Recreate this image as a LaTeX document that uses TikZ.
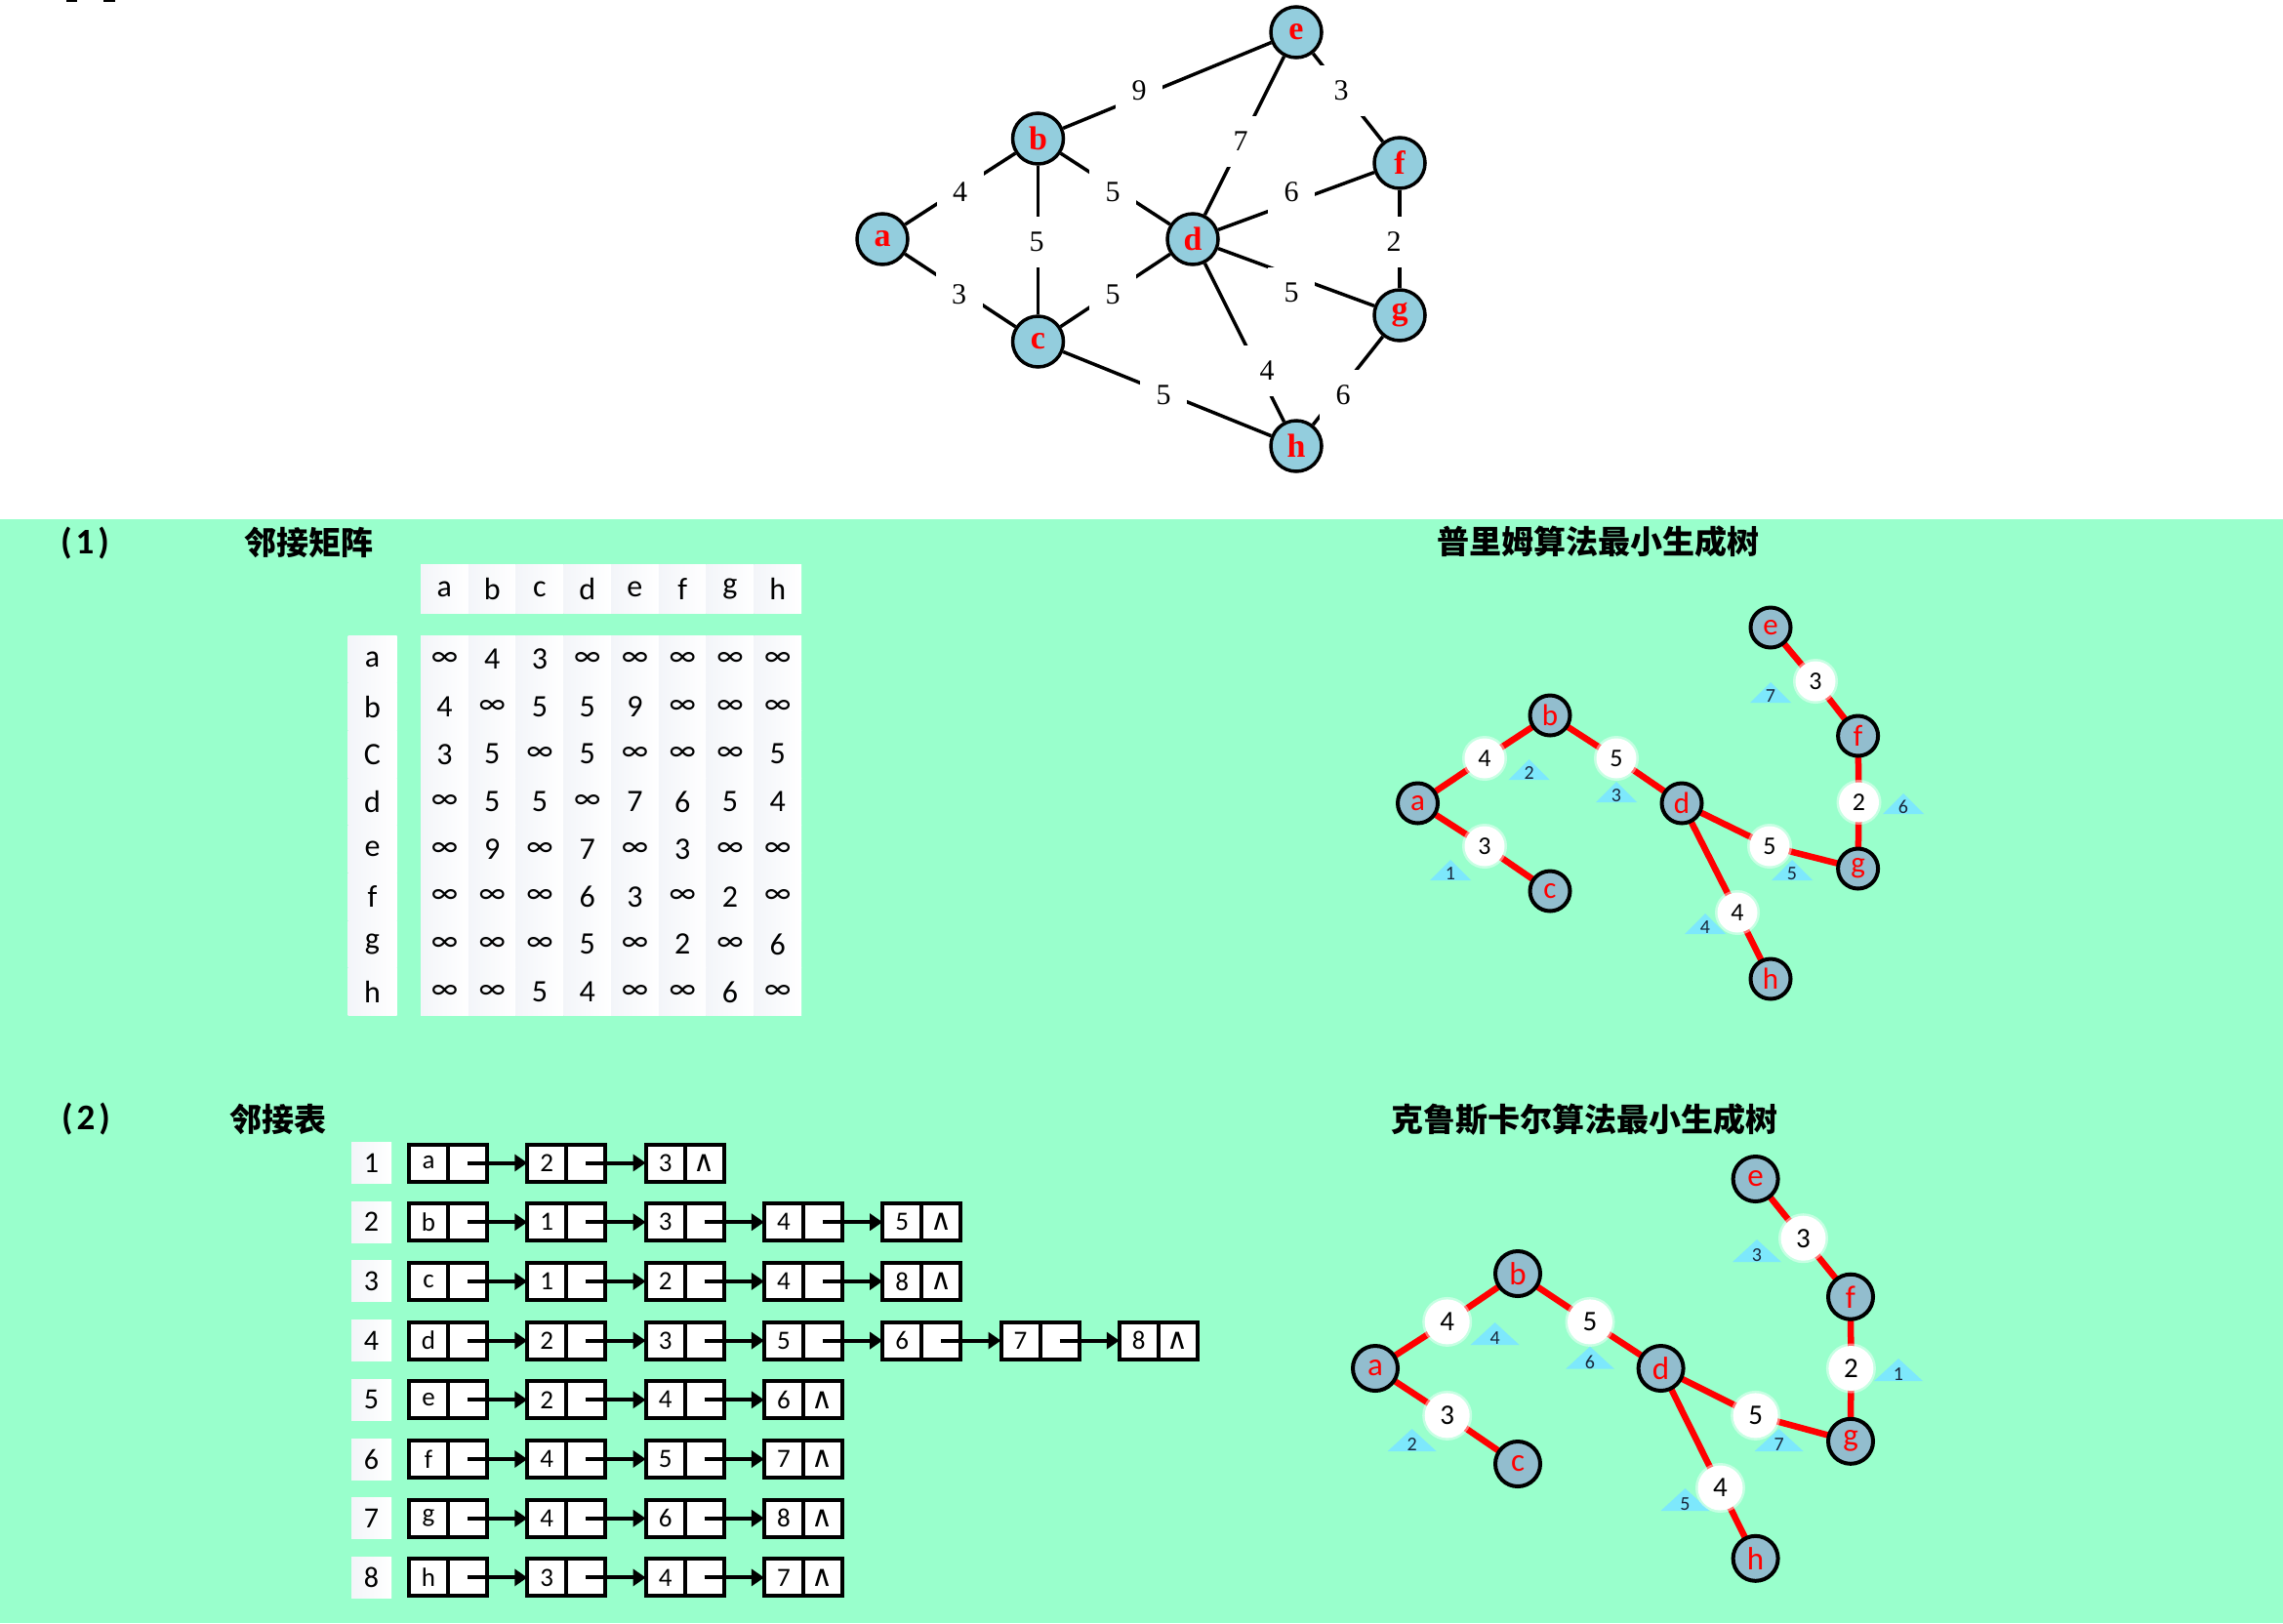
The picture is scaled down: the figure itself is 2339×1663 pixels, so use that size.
\documentclass[tikz,border=0pt]{standalone}
\usepackage{fontspec}
\setmainfont{Liberation Serif}
\newfontfamily\carl{Carlito}
\newfontfamily\cjk{Noto Sans CJK SC}
\newfontfamily\dvs{DejaVu Sans}
\usetikzlibrary{arrows.meta}
\pgfdeclarelayer{bg}
\pgfsetlayers{bg,main}
\definecolor{bggreen}{RGB}{153,255,204}
\definecolor{topnode}{RGB}{147,205,221}
\definecolor{treenode}{RGB}{146,189,206}
\definecolor{tricyan}{RGB}{125,232,252}
\definecolor{trinumc}{RGB}{25,40,60}
\definecolor{cellgray}{RGB}{243,245,249}
\newcommand\fsz[1]{\fontsize{#1}{#1}\selectfont}
\newcommand\ordtri[6]{%
  \begin{pgfonlayer}{bg}\fill[tricyan] ({#2-#5/2},{#3+7}) -- ({#2+#5/2},{#3+7}) -- ({#2},{#3+7-#6}) -- cycle;\end{pgfonlayer}
  \node[trinum] (#1) at (#2,#3) {#4};}
\tikzset{
  gnode/.style={circle, draw=black, line width=3.5pt, fill=topnode, minimum size=52pt, inner sep=0pt, text=red, font=\fsz{34}\bfseries},
  gedge/.style={draw=black, line width=3.5pt},
  glabel/.style={fill=white, inner sep=0pt, minimum width=48pt, minimum height=52pt, font=\fsz{30}},
  ttl/.style={inner sep=0pt, font=\cjk\bfseries\fsz{33}},
  ttlnum/.style={inner sep=0pt, font=\carl\bfseries\fsz{37}},
  mcell/.style={minimum width=48.75pt, minimum height=48.7pt, inner sep=0pt, left color=cellgray, right color=white, font=\carl\fsz{32}},
  idx/.style={minimum width=41pt, minimum height=42pt, inner sep=0pt, left color=cellgray, right color=white, font=\carl\fsz{30}},
  lcell/.style={draw=black, line width=4pt, fill=white, minimum width=40pt, minimum height=38pt, inner sep=0pt, outer sep=0pt, font=\carl\fsz{27}},
  arr/.style={line width=4pt, -{Triangle[length=13pt,width=17pt]}},
  tnode/.style={circle, draw=black, line width=4pt, fill=treenode, inner sep=0pt, text=red, font=\carl\fsz{31}, minimum size=41pt},
  knode/.style={tnode, minimum size=46pt, font=\carl\fsz{33}},
  wcirc/.style={circle, fill=white, draw=white, draw opacity=0.45, line width=5pt, inner sep=0pt, minimum size=41pt, font=\carl\fsz{26}},
  kwcirc/.style={wcirc, minimum size=46pt, font=\carl\fsz{29}},
  redge/.style={draw=red, line width=6.5pt},
  trinum/.style={inner sep=0pt, text=trinumc, font=\carl\fsz{20}},
}
\begin{document}
\begin{tikzpicture}[x=1pt,y=-1pt]
\useasboundingbox (0,0) rectangle (2339,1663);
\begin{pgfonlayer}{bg}
\fill[white] (0,0) rectangle (2339,1663);
\fill[bggreen] (0,532) rectangle (2339,1663);
\end{pgfonlayer}
\fill[black] (68,0) rectangle (79,2);
\fill[black] (106,0) rectangle (118,2);

% ---------- top graph ----------
\foreach \n/\x/\y in {a/904/245, b/1063.5/142, c/1063.5/350, d/1222/245, e/1328/33, f/1434/167, g/1434/323, h/1328/457}
  \node[gnode] (\n) at (\x,\y) {\n};
\foreach \u/\v in {a/b, a/c, b/c, b/e, b/d, c/d, d/e, e/f, d/f, f/g, d/g, d/h, g/h, c/h}
  \draw[gedge] (\u) -- (\v);
\foreach \t/\x/\y [count=\i] in {4/983.5/197, 3/982.7/302, 5/1062/248, 9/1167/93, 5/1140/197, 5/1140/302, 7/1271/145, 3/1374/93, 6/1323/197, 2/1428/248, 5/1323/300, 4/1298/380, 6/1376/405, 5/1192/405}
  \node[glabel] (gl\i) at (\x,\y) {\t};

% ---------- section titles ----------
\node[ttlnum] (s1) at (87,557) {(\kern 4pt 1\kern 4pt)};
\node[ttl] (t1) at (316,556) {邻接矩阵};
\node[ttl] (t2) at (1637,555) {普里姆算法最小生成树};
\node[ttlnum] (s2) at (88,1147) {(\kern 4pt 2\kern 4pt)};
\node[ttl] (t3) at (285,1147) {邻接表};
\node[ttl] (t4) at (1623.6,1147) {克鲁斯卡尔算法最小生成树};

% ---------- adjacency matrix ----------
\foreach \lab [count=\ci] in {a,b,c,d,e,f,g,h}
  \node[mcell, minimum height=50pt] (mh\ci) at ({455.4+48.75*(\ci-1)},603.6) {\lab};
\foreach \lab [count=\ri] in {a,b,C,d,e,f,g,h}
  \node[mcell, minimum width=50pt] (ml\ri) at (381.5,{675.4+48.7*(\ri-1)}) {\lab};
\foreach \row [count=\ri] in {{∞,4,3,∞,∞,∞,∞,∞},{4,∞,5,5,9,∞,∞,∞},{3,5,∞,5,∞,∞,∞,5},{∞,5,5,∞,7,6,5,4},{∞,9,∞,7,∞,3,∞,∞},{∞,∞,∞,6,3,∞,2,∞},{∞,∞,∞,5,∞,2,∞,6},{∞,∞,5,4,∞,∞,6,∞}}
  \foreach \v [count=\ci] in \row
    \node[mcell] (m\ri-\ci) at ({455.4+48.75*(\ci-1)},{675.4+48.7*(\ri-1)}) {\v};

% ---------- adjacency list ----------
\foreach \len/\row [count=\ri] in {3/{a,2,3},5/{b,1,3,4,5},5/{c,1,2,4,8},7/{d,2,3,5,6,7,8},4/{e,2,4,6},4/{f,4,5,7},4/{g,4,6,8},4/{h,3,4,7}}{
  \node[idx] (ix\ri) at (380.5,{1191.5+60.7*(\ri-1)}) {\ri};
  \foreach \v [count=\k, remember=\k as \kp (initially 0)] in \row {
    \node[lcell] (d\ri-\k) at ({439+121.3*(\k-1)},{1191.5+60.7*(\ri-1)}) {\v};
    \node[lcell] (p\ri-\k) at ({479+121.3*(\k-1)},{1191.5+60.7*(\ri-1)}) {\ifnum\k=\len{\dvs\fsz{30}∧}\fi};
    \ifnum\k>1 \draw[arr] (p\ri-\kp.center) -- (d\ri-\k.west);\fi
  }
}

% ---------- Prim tree ----------
\foreach \n/\x/\y in {a/1452.5/823, b/1588/733, c/1588/913, d/1723/823, e/1814/643, f/1903.6/754, g/1903.6/890, h/1814/1003}
  \node[tnode] (p\n) at (\x,\y) {\n};
\foreach \n/\x/\y/\t in {ab/1521/777/4, bd/1656/777/5, ac/1521/867/3, ef/1860/698/3, fg/1904.5/822/2, dg/1813/867/5, dh/1780/935/4}
  \node[wcirc] (pw\n) at (\x,\y) {\t};
\begin{pgfonlayer}{bg}
\foreach \u/\w/\v in {a/ab/b, b/bd/d, a/ac/c, e/ef/f, f/fg/g, d/dg/g, d/dh/h}
  \draw[redge] (p\u.center) -- (pw\w.center) -- (p\v.center);
\end{pgfonlayer}
\ordtri{po1}{1486}{895}{1}{42}{21}
\ordtri{po2}{1566.6}{792}{2}{42}{21}
\ordtri{po3}{1656}{815}{3}{42}{21}
\ordtri{po4}{1747}{950}{4}{42}{21}
\ordtri{po5}{1836}{895}{5}{42}{21}
\ordtri{po6}{1950}{827}{6}{42}{21}
\ordtri{po7}{1814}{713}{7}{42}{21}

% ---------- Kruskal tree ----------
\foreach \n/\x/\y in {a/1409/1402, b/1555/1305, c/1555/1500, d/1701.6/1402, e/1798.6/1208, f/1896/1328.7, g/1896/1476.8, h/1798.6/1596.8}
  \node[knode] (k\n) at (\x,\y) {\n};
\foreach \n/\x/\y/\t in {ab/1482.7/1354.4/4, bd/1629/1354.4/5, ac/1482.7/1450.4/3, ef/1847.5/1268.7/3, fg/1896.4/1402/2, dg/1798.6/1450.4/5, dh/1762.5/1524.5/4}
  \node[kwcirc] (kw\n) at (\x,\y) {\t};
\begin{pgfonlayer}{bg}
\foreach \u/\w/\v in {a/ab/b, b/bd/d, a/ac/c, e/ef/f, f/fg/g, d/dg/g, d/dh/h}
  \draw[redge] (k\u.center) -- (kw\w.center) -- (k\v.center);
\end{pgfonlayer}
\ordtri{ko1}{1945}{1408}{1}{50}{23}
\ordtri{ko2}{1446.6}{1480}{2}{50}{23}
\ordtri{ko3}{1800}{1286}{3}{50}{23}
\ordtri{ko4}{1531.6}{1371}{4}{50}{23}
\ordtri{ko5}{1726.5}{1541}{5}{50}{23}
\ordtri{ko6}{1629}{1395.7}{6}{50}{23}
\ordtri{ko7}{1822.6}{1480}{7}{50}{23}
\end{tikzpicture}
\end{document}
